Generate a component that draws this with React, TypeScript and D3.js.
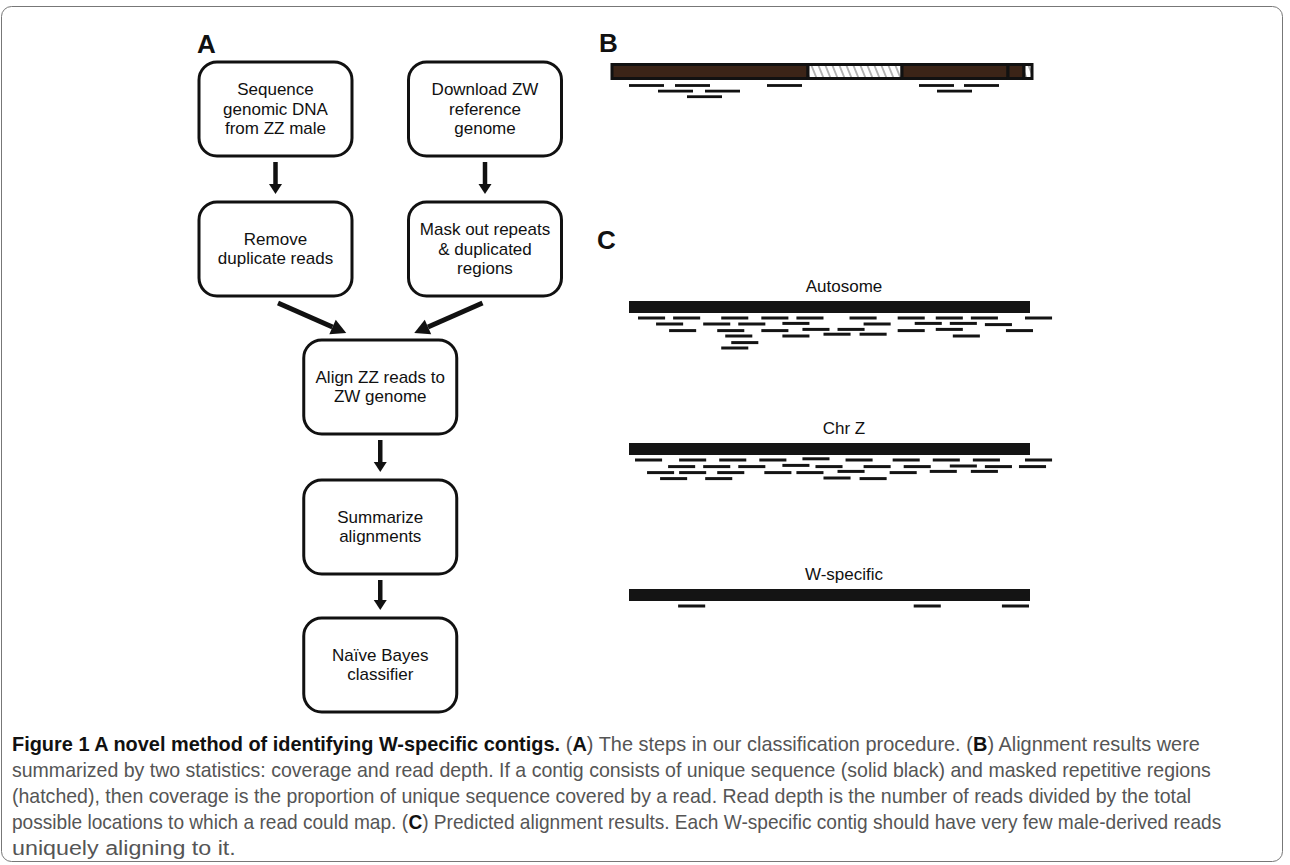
import { useLayoutEffect, useRef, useState } from "react";
import * as d3 from "d3";

// ---- panel A: workflow steps ----
const stepLabels: string[][] = [
  ["Sequence", "genomic DNA", "from ZZ male"],
  ["Download ZW", "reference", "genome"],
  ["Remove", "duplicate reads"],
  ["Mask out repeats", "& duplicated", "regions"],
  ["Align ZZ reads to", "ZW genome"],
  ["Summarize", "alignments"],
  ["Naïve Bayes", "classifier"],
];
// column (0 left, 1 right, 0.5 middle) and row of each step
const stepCols = [0, 1, 0, 1, 0.5, 0.5, 0.5];
const stepRows = [0, 0, 1, 1, 2, 3, 4];
const stepLinks: [number, number][] = [
  [0, 2],
  [1, 3],
  [2, 4],
  [3, 4],
  [4, 5],
  [5, 6],
];

// ---- panel B: one contig with unique / masked stretches ----
const bSegments: { start: number; end: number; kind: "unique" | "masked" }[] = [
  { start: 0, end: 196, kind: "unique" },
  { start: 196, end: 290, kind: "masked" },
  { start: 290, end: 396, kind: "unique" },
  { start: 396, end: 412, kind: "unique" },
  { start: 412, end: 420, kind: "masked" },
];
const bReads: [number, number][] = [
  [17, 0], [63, 0], [155, 0], [307, 0], [352, 0],
  [46, 1], [93, 1], [325, 1],
  [75, 2],
];

// ---- panel C: predicted alignments (start, lane) ----
const autosomeReads: [number, number][] = [
  [9, 0], [44, 0], [92, 0], [132, 0], [167, 0], [220, 0], [268, 0], [306, 0], [341, 0], [395, 0],
  [27, 1], [74, 1], [109, 1], [153, 0.9], [234, 1], [285, 0.9], [320, 0.9], [355, 1.1],
  [40, 2.1], [88, 2.1], [132, 2.1], [173, 1.9], [208, 1.9], [268, 2.1], [306, 1.9], [376, 2.1],
  [96, 3], [153, 3], [194, 2.7], [230, 2.7], [323, 3],
  [102, 4.1],
  [92, 5],
];
const chrZReads: [number, number][] = [
  [6, 0], [50, 0], [90, 0], [130, 0], [173, -0.2], [216, 0], [263, 0], [303, 0], [343, 0], [395, 0],
  [39, 1.1], [74, 1.1], [109, 1.1], [153, 0.9], [186, 1.1], [234, 1.1], [274, 1.1], [320, 1], [355, 1.1], [389, 1.1],
  [18, 2.1], [50, 2.1], [88, 2.1], [135, 2.1], [167, 2.1], [208, 1.9], [260, 2.1], [300, 1.9], [341, 1.9],
  [31, 3.1], [76, 3.1], [194, 3], [230, 3.1],
];
const wReads: [number, number][] = [
  [49, 0], [284, 0], [372, 0],
];
const trackNames = ["Autosome", "Chr Z", "W-specific"];
const trackReads = [autosomeReads, chrZReads, wReads];

// ---- caption ----
type Seg = { t: string; b?: boolean };
const captionLines: Seg[][] = [
  [
    { t: "Figure 1 A novel method of identifying W-specific contigs.", b: true },
    { t: " (" }, { t: "A", b: true },
    { t: ") The steps in our classification procedure. (" }, { t: "B", b: true },
    { t: ") Alignment results were" },
  ],
  [{ t: "summarized by two statistics: coverage and read depth. If a contig consists of unique sequence (solid black) and masked repetitive regions" }],
  [{ t: "(hatched), then coverage is the proportion of unique sequence covered by a read. Read depth is the number of reads divided by the total" }],
  [
    { t: "possible locations to which a read could map. (" }, { t: "C", b: true },
    { t: ") Predicted alignment results. Each W-specific contig should have very few male-derived reads" },
  ],
  [{ t: "uniquely aligning to it." }],
];
const captionEnds = [1200, 1212, 1192, 1222, 236];

const W = 1290;
const H = 865;
const FONT = "'Liberation Sans', Arial, Helvetica, sans-serif";
const CAPTION_FONT = "'Liberation Sans Narrow', 'Liberation Sans', Arial, sans-serif";

function Arrow({ x1, y1, x2, y2, shaft, head, half }: { x1: number; y1: number; x2: number; y2: number; shaft: number; head: number; half: number }) {
  const a = Math.atan2(y2 - y1, x2 - x1);
  const bx = x2 - Math.cos(a) * head;
  const by = y2 - Math.sin(a) * head;
  const px = -Math.sin(a) * half;
  const py = Math.cos(a) * half;
  return (
    <g>
      <line x1={x1} y1={y1} x2={bx} y2={by} stroke="#111" strokeWidth={shaft} />
      <path d={`M${x2},${y2}L${bx + px},${by + py}L${bx - px},${by - py}Z`} fill="#111" />
    </g>
  );
}

// one caption line: segments measured, then squeezed to the target width
function CaptionLine({ segs, x, y, end }: { segs: Seg[]; x: number; y: number; end: number }) {
  const refs = useRef<(SVGTextElement | null)[]>([]);
  const [widths, setWidths] = useState<number[] | null>(null);

  useLayoutEffect(() => {
    const w = refs.current.map((el) => (el ? el.getComputedTextLength() : 0));
    setWidths(w);
  }, [segs]);

  const total = widths ? d3.sum(widths) : 1;
  const k = widths ? (end - x) / total : 1;
  let cursor = 0;

  return (
    <g transform={`translate(${x},${y}) scale(${k},1)`} opacity={widths ? 1 : 0}>
      {segs.map((s, j) => {
        const sx = cursor;
        cursor += widths ? widths[j] : 0;
        return (
          <text
            key={j}
            ref={(el) => {
              refs.current[j] = el;
            }}
            x={sx}
            y={0}
            fontSize={20}
            fontFamily={CAPTION_FONT}
            fontWeight={s.b ? "bold" : "normal"}
            fill={s.b ? "#111" : "#555"}
            style={{ whiteSpace: "pre" }}
          >
            {s.t}
          </text>
        );
      })}
    </g>
  );
}

export default function App() {
  // panel A layout
  const colX = d3.scaleLinear().domain([0, 1]).range([275.5, 485]);
  const rowY = d3.scaleOrdinal<number, number>().domain([0, 1, 2, 3, 4]).range([62, 202, 340, 480, 618]);
  const boxW = 153;
  const boxH = 94;
  const boxes = stepLabels.map((lines, i) => {
    const cx = colX(stepCols[i]);
    const y = rowY(stepRows[i]);
    return { lines, cx, y, cy: y + boxH / 2 };
  });

  // panel B
  const xB = d3.scaleLinear().domain([0, 420]).range([612, 1032]);
  const laneB = d3.scaleLinear().domain([0, 1]).range([85.5, 91.1]);
  const bReadLen = 35;

  // panel C
  const xC = d3.scaleLinear().domain([0, 400]).range([629, 1030]);
  const trackTop = d3.scaleOrdinal<number, number>().domain([0, 1, 2]).range([301, 443, 589]);
  const laneC = d3.scaleLinear().domain([0, 1]).range([5, 11]);
  const cReadLen = 27;

  return (
    <svg
      width={W}
      height={H}
      style={{ position: "absolute", left: 0, top: 0, background: "#fff" }}
      fontFamily={FONT}
    >
      <defs>
        <pattern id="hatch" width={7} height={20} patternUnits="userSpaceOnUse" patternTransform="skewX(22)">
          <rect width={7} height={20} fill="#fff" />
          <line x1={1} y1={0} x2={1} y2={20} stroke="#666" strokeWidth={1} />
        </pattern>
      </defs>

      <rect x={1.5} y={6.5} width={1281} height={855} rx={10} fill="none" stroke="#777" strokeWidth={1} />

      {/* panel letters */}
      <text x={197} y={53} fontSize={26} fontWeight="bold" fill="#111">A</text>
      <text x={599} y={52} fontSize={26} fontWeight="bold" fill="#111">B</text>
      <text x={597} y={249} fontSize={26} fontWeight="bold" fill="#111">C</text>

      {/* panel A */}
      {stepLinks.map(([s, t], i) => {
        const a = boxes[s];
        const b = boxes[t];
        if (a.cx === b.cx) {
          return <Arrow key={i} x1={a.cx} y1={a.y + boxH + 6} x2={b.cx} y2={b.y - 8} shaft={4.5} head={10} half={6.5} />;
        }
        const dir = b.cx > a.cx ? 1 : -1;
        return (
          <Arrow
            key={i}
            x1={a.cx + dir * 2.5}
            y1={a.y + boxH + 7}
            x2={b.cx - dir * 34}
            y2={b.y - 7}
            shaft={5}
            head={15}
            half={8}
          />
        );
      })}
      {boxes.map((bx, i) => (
        <g key={i}>
          <rect x={bx.cx - boxW / 2} y={bx.y} width={boxW} height={boxH} rx={18} fill="#fff" stroke="#111" strokeWidth={3} />
          {bx.lines.map((ln, j) => (
            <text
              key={j}
              x={bx.cx}
              y={bx.cy + 5.5 + (j - (bx.lines.length - 1) / 2) * 19.5}
              textAnchor="middle"
              fontSize={17}
              fill="#111"
            >
              {ln}
            </text>
          ))}
        </g>
      ))}

      {/* panel B */}
      {bSegments.map((s, i) => (
        <rect
          key={i}
          x={xB(s.start)}
          y={64.5}
          width={xB(s.end) - xB(s.start)}
          height={14}
          fill={s.kind === "unique" ? "#3b2417" : "url(#hatch)"}
          stroke="#111"
          strokeWidth={3}
        />
      ))}
      {bReads.map(([st, lane], i) => (
        <rect key={i} x={xB(st)} y={laneB(lane) - 1.4} width={xB(st + bReadLen) - xB(st)} height={2.8} fill="#111" />
      ))}

      {/* panel C */}
      {trackNames.map((name, ti) => {
        const top = trackTop(ti);
        const bottom = top + 12;
        return (
          <g key={name}>
            <text x={844} y={top - 9} textAnchor="middle" fontSize={17} fill="#111">
              {name}
            </text>
            <rect x={xC(0)} y={top} width={xC(400) - xC(0)} height={12} fill="#141414" />
            {trackReads[ti].map(([st, lane], i) => (
              <rect
                key={i}
                x={xC(st)}
                y={bottom + laneC(lane) - 1.5}
                width={xC(st + cReadLen) - xC(st)}
                height={3}
                fill="#141414"
              />
            ))}
          </g>
        );
      })}

      {/* caption */}
      {captionLines.map((segs, i) => (
        <CaptionLine key={i} segs={segs} x={12} y={751 + i * 26} end={captionEnds[i]} />
      ))}
    </svg>
  );
}
